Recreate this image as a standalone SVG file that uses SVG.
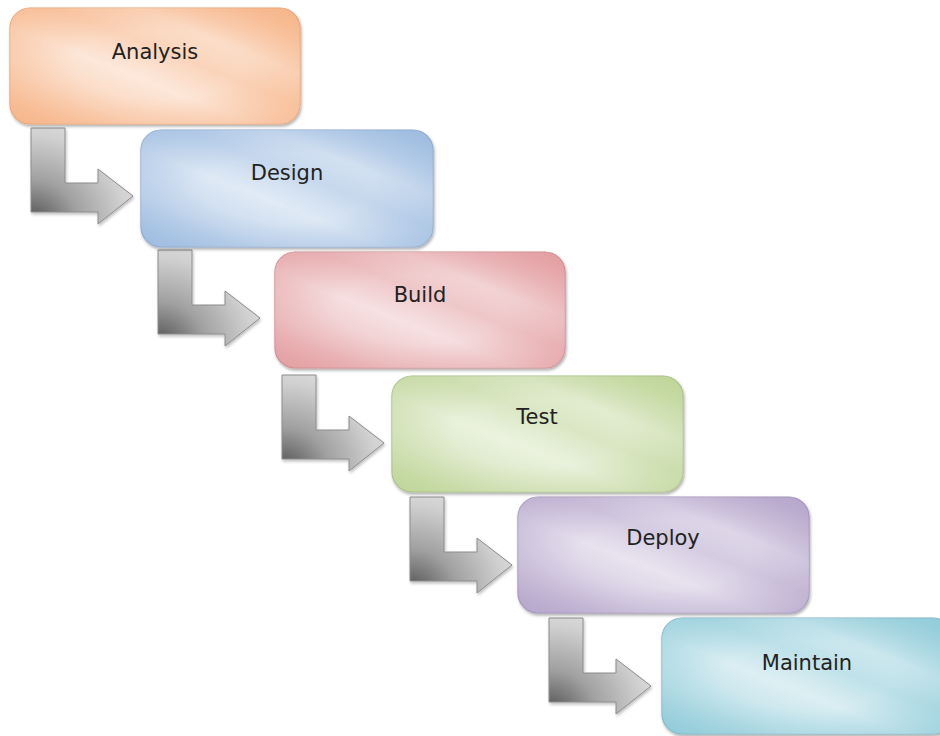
<svg xmlns="http://www.w3.org/2000/svg" width="940" height="736" viewBox="0 0 940 736">
  <defs>
    <style>
      .box { stroke-width: 1.2; filter: url(#shadow); }
      .sheen { fill: url(#sheen); mask: url(#vignette); }
      .label { font-family: "DejaVu Sans", "Liberation Sans", sans-serif; font-size: 21px; fill: #222; text-anchor: middle; }
      .arrow { fill: url(#steel); stroke: #8c8c8c; stroke-width: 1; filter: url(#ashadow); }
    </style>
    <filter id="shadow" x="-10%" y="-10%" width="120%" height="130%">
      <feDropShadow dx="1" dy="2" stdDeviation="1.6" flood-color="#000" flood-opacity="0.32"/>
    </filter>
    <filter id="ashadow" x="-20%" y="-20%" width="140%" height="140%">
      <feDropShadow dx="1" dy="2" stdDeviation="1.5" flood-color="#000" flood-opacity="0.25"/>
    </filter>
    <!-- pale diagonal bands: strong colour stays at the top-right and bottom-left -->
    <linearGradient id="sheen" x1="1" y1="0" x2="0" y2="1">
      <stop offset="0" stop-color="#fff" stop-opacity="0.05"/>
      <stop offset="0.28" stop-color="#fff" stop-opacity="0.6"/>
      <stop offset="0.42" stop-color="#fff" stop-opacity="0.45"/>
      <stop offset="0.58" stop-color="#fff" stop-opacity="0.72"/>
      <stop offset="0.78" stop-color="#fff" stop-opacity="0.5"/>
      <stop offset="1" stop-color="#fff" stop-opacity="0.1"/>
    </linearGradient>
    <radialGradient id="vigGrad" cx="0.5" cy="0.5" r="0.65">
      <stop offset="0" stop-color="#fff"/>
      <stop offset="0.45" stop-color="#eee"/>
      <stop offset="1" stop-color="#555"/>
    </radialGradient>
    <mask id="vignette" maskContentUnits="objectBoundingBox">
      <rect width="1" height="1" fill="url(#vigGrad)"/>
    </mask>
    <radialGradient id="steel" cx="0" cy="1" r="1.15" fx="0" fy="1">
      <stop offset="0" stop-color="#4e4e4e"/>
      <stop offset="0.4" stop-color="#a0a0a0"/>
      <stop offset="0.8" stop-color="#d0d0d0"/>
      <stop offset="1" stop-color="#dedede"/>
    </radialGradient>
    <path id="bent" d="M0,0 H34 V55 H67 V41 L102,68 L67,96 V84 H0 Z"/>
  </defs>

  <rect width="940" height="736" fill="#fff"/>

  <!-- bent arrows between consecutive stages -->
  <g id="connectors">
    <use href="#bent" class="arrow" x="31" y="128"/>
    <use href="#bent" class="arrow" x="158" y="250"/>
    <use href="#bent" class="arrow" x="282" y="375"/>
    <use href="#bent" class="arrow" x="410" y="497"/>
    <use href="#bent" class="arrow" x="549" y="618"/>
  </g>

  <g id="analysis">
    <rect class="box" x="10" y="8" width="290" height="116" rx="20" fill="#f7b487" stroke="#e9a577"/>
    <rect class="sheen" x="10" y="8" width="290" height="116" rx="20"/>
    <text class="label" x="155" y="59">Analysis</text>
  </g>

  <g id="design">
    <rect class="box" x="141" y="130" width="292" height="117" rx="20" fill="#9cbbe0" stroke="#8eaacf"/>
    <rect class="sheen" x="141" y="130" width="292" height="117" rx="20"/>
    <text class="label" x="287" y="180">Design</text>
  </g>

  <g id="build">
    <rect class="box" x="275" y="252" width="290" height="116" rx="20" fill="#e39da0" stroke="#cf8c90"/>
    <rect class="sheen" x="275" y="252" width="290" height="116" rx="20"/>
    <text class="label" x="420" y="302">Build</text>
  </g>

  <g id="test">
    <rect class="box" x="392" y="376" width="291" height="116" rx="20" fill="#bed597" stroke="#a9c086"/>
    <rect class="sheen" x="392" y="376" width="291" height="116" rx="20"/>
    <text class="label" x="537" y="424">Test</text>
  </g>

  <g id="deploy">
    <rect class="box" x="518" y="497" width="291" height="116" rx="20" fill="#b5a5cb" stroke="#a293ba"/>
    <rect class="sheen" x="518" y="497" width="291" height="116" rx="20"/>
    <text class="label" x="663" y="545">Deploy</text>
  </g>

  <g id="maintain">
    <rect class="box" x="662" y="618" width="291" height="116" rx="20" fill="#8fcbd9" stroke="#80b8c6"/>
    <rect class="sheen" x="662" y="618" width="291" height="116" rx="20"/>
    <text class="label" x="807" y="670">Maintain</text>
  </g>
</svg>
